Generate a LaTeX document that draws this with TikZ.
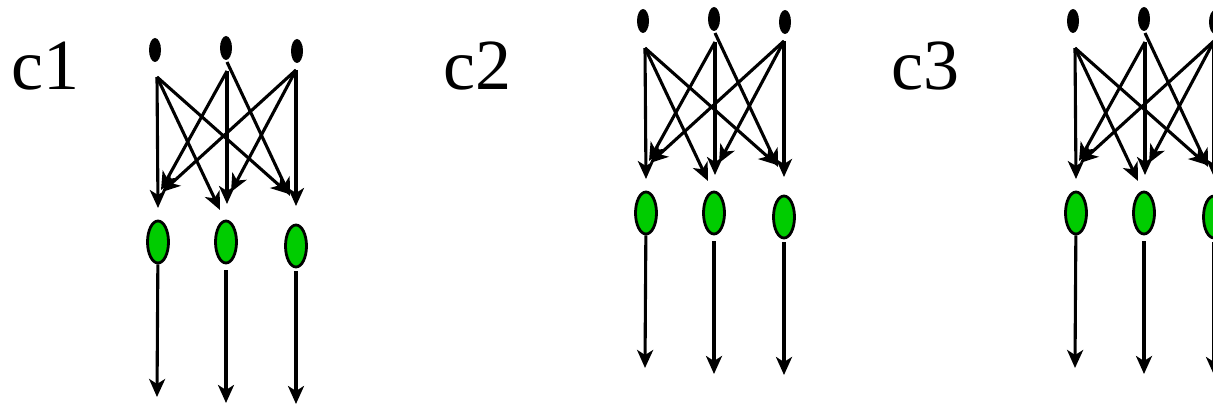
\documentclass[tikz,border=0pt]{standalone}
\usepackage{fontspec}
\setmainfont{Liberation Serif}
\newfontfamily\labfont{Liberation Serif}
\usetikzlibrary{shapes.geometric,arrows.meta}
\definecolor{myGreen}{RGB}{0,204,0}
\tikzset{
  srcdot/.style={ellipse, fill=black, minimum width=12pt, minimum height=24pt, inner sep=0pt},
  gnode/.style={ellipse, draw=black, line width=2.8pt, fill=myGreen, minimum width=21pt, minimum height=42pt, inner sep=0pt},
  arr/.style={line width=3.1pt, -{Stealth[length=18pt,width=16pt,inset=5pt]}},
  lab/.style={font=\labfont\fontsize{72}{80}\selectfont, anchor=base west, inner sep=0pt}
}
\begin{document}
\begin{tikzpicture}[x=1pt,y=-1pt]
\useasboundingbox (0,0) rectangle (1213,406);
\clip (0,0) rectangle (1213,406);
\fill[white] (0,0) rectangle (1213,406);
\node[lab] (c1) at (11,90) {c1};
\node[lab] (c2) at (443,90) {c2};
\node[lab] (c3) at (891,90) {c3};
\foreach \g/\dx/\dy in {1/0/0, 2/488/-29, 3/918/-29} {
  \begin{scope}[shift={(\dx,\dy)}]
    \node[srcdot] (s1-\g) at (155,50) {};
    \node[srcdot] (s2-\g) at (226,48) {};
    \node[srcdot] (s3-\g) at (297,51) {};
    \coordinate (o1-\g) at (157,77);
    \coordinate (o2-\g) at (227,71);
    \coordinate (o2b-\g) at (227,62);
    \coordinate (o3-\g) at (296,70);
    \coordinate (e11-\g) at (158,208);
    \coordinate (e12-\g) at (220,210);
    \coordinate (e13-\g) at (289,194);
    \coordinate (e21-\g) at (161,190);
    \coordinate (e22-\g) at (227,204);
    \coordinate (e23-\g) at (290,196);
    \coordinate (e31-\g) at (162,192);
    \coordinate (e32-\g) at (231,192);
    \coordinate (e33-\g) at (296,206);
    \draw[arr] (o1-\g) -- (e11-\g);
    \draw[arr] (o1-\g) -- (e12-\g);
    \draw[arr] (o1-\g) -- (e13-\g);
    \draw[arr] (o2-\g) -- (e21-\g);
    \draw[arr] (o2-\g) -- (e22-\g);
    \draw[arr] (o2b-\g) -- (e23-\g);
    \draw[arr] (o3-\g) -- (e31-\g);
    \draw[arr] (o3-\g) -- (e32-\g);
    \draw[arr] (o3-\g) -- (e33-\g);
    \node[gnode] (g1-\g) at (158,242) {};
    \node[gnode] (g2-\g) at (226,242) {};
    \node[gnode] (g3-\g) at (296,246) {};
    \coordinate (b1-\g) at (157,397);
    \coordinate (b2-\g) at (226,403);
    \coordinate (b3-\g) at (296,404);
    \draw[arr] (g1-\g) -- (b1-\g);
    \draw[arr, shorten <=6pt] (g2-\g) -- (b2-\g);
    \draw[arr, shorten <=3pt] (g3-\g) -- (b3-\g);
  \end{scope}
}
\end{tikzpicture}
\end{document}
